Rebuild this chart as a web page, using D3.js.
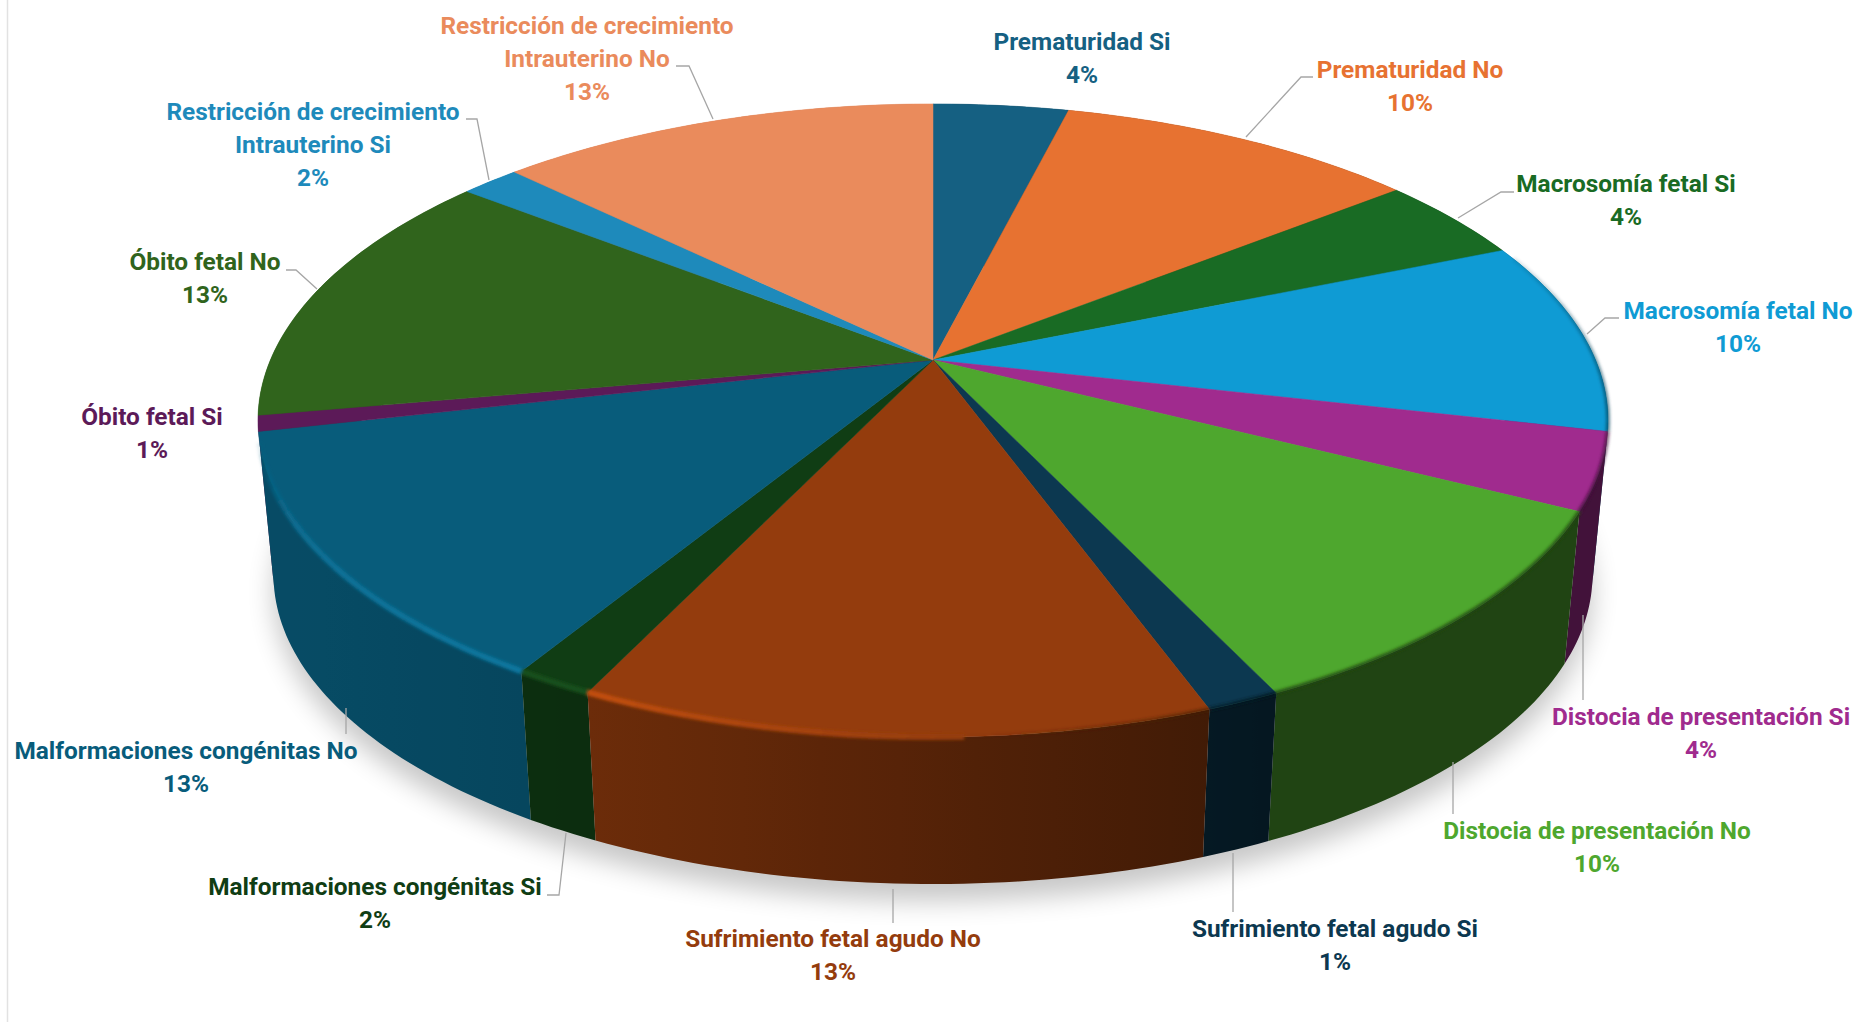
<!DOCTYPE html>
<html>
<head>
<meta charset="utf-8">
<script src="https://cdn.jsdelivr.net/npm/d3@7"></script>
<style>
  html, body { margin: 0; padding: 0; background: #fff; }
  svg { display: block; }
  text { font-family: Roboto, sans-serif; font-weight: 700; font-size: 24.4px; text-anchor: middle; }
</style>
</head>
<body>
<svg id="chart" width="1856" height="1022"></svg>
<script>
const categories = [
  ['Prematuridad Si'], ['Prematuridad No'], ['Macrosomía fetal Si'], ['Macrosomía fetal No'],
  ['Distocia de presentación Si'], ['Distocia de presentación No'],
  ['Sufrimiento fetal agudo Si'], ['Sufrimiento fetal agudo No'],
  ['Malformaciones congénitas Si'], ['Malformaciones congénitas No'],
  ['Óbito fetal Si'], ['Óbito fetal No'],
  ['Restricción de crecimiento', 'Intrauterino Si'], ['Restricción de crecimiento', 'Intrauterino No']
]
const shares = [3.9, 10.4, 4.4, 9.9, 3.9, 10.45, 1.49, 12.66, 1.6, 12.7, 0.8, 13.4, 1.7, 12.7]

const colours = ['#156082', '#e77231', '#196b24', '#0f9bd4', '#a02b8e', '#4ea72e', '#0c3850',
  '#943c0d', '#103d14', '#085c7b', '#5c1a58', '#30641c', '#1e8abb', '#ea8b5c']

// label centres (first line) and leader lines, in page pixels
const labelAt = [[1082, 42], [1410, 70], [1626, 184], [1738, 311], [1701, 717], [1597, 831], [1335, 929],
  [833, 939], [375, 887], [186, 751], [152, 417], [205, 262], [313, 112], [587, 26]]
const leaders = [
  null,
  [[1313, 77], [1301, 77], [1246, 137]],
  [[1514, 192], [1501, 192], [1458, 218]],
  [[1619, 318], [1605, 318], [1587, 334]],
  [[1583, 700], [1583, 615]],
  [[1453, 814], [1453, 762]],
  [[1233, 912], [1233, 853]],
  [[893, 923], [893, 889]],
  [[547, 895], [559, 895], [566, 833]],
  [[346, 734], [346, 708]],
  null,
  [[286, 270], [296, 270], [317, 289]],
  [[466, 119], [477, 119], [489, 180]],
  [[676, 66], [689, 66], [713, 119]]
]

const svg = d3.select('#chart')
const lineHeight = 33

// perspective of the disc: v = 1 is the far edge, and the base is a bit smaller and lower
const cx = 933, cy = 360
const k = 0.191, A = 662.6, B = 305
const baseScale = 0.977, baseDrop = 155.7

function project(a, base) {
  const u = Math.sin(a), v = Math.cos(a), w = 1 + k * v
  const s = base ? baseScale : 1
  return [cx + s * A * u / w, cy + (base ? baseDrop : 0) - s * B * v / w]
}

const pie = d3.pie().sort(null).value(d => d)
const arcs = pie(shares)
const line = d3.line()
const deg = Math.PI / 180

function arcAngles(a0, a1, step) {
  const n = Math.max(1, Math.ceil((a1 - a0) / step))
  return d3.range(n + 1).map(i => a0 + (a1 - a0) * i / n)
}

// darker on the right of the front wall, lighter to the left
const sideLight = d3.scaleLinear().domain([155, 210, 250]).range([0.41, 0.76, 0.82]).clamp(true)
function shade(c, f) {
  const r = d3.rgb(c)
  return d3.rgb(r.r * f, r.g * f, r.b * f).formatHex()
}

const defs = svg.append('defs')
defs.append('filter').attr('id', 'shadowBlur')
  .attr('x', '-10%').attr('y', '-10%').attr('width', '120%').attr('height', '120%')
  .append('feGaussianBlur').attr('stdDeviation', 13)
defs.append('filter').attr('id', 'rimBlur')
  .attr('filterUnits', 'userSpaceOnUse')
  .attr('x', 0).attr('y', 0).attr('width', 1856).attr('height', 1022)
  .append('feGaussianBlur').attr('stdDeviation', 1.8)

// page edge on the left
svg.append('line').attr('x1', 7.5).attr('x2', 7.5).attr('y1', 0).attr('y2', 1022)
  .attr('stroke', '#e2e2e2').attr('stroke-width', 1.5)

// shadow under the base
svg.append('path')
  .attr('d', line(arcAngles(0, 2 * Math.PI, deg).map(a => project(a, true))) + 'Z')
  .attr('transform', 'translate(0,17)')
  .attr('fill', '#000').attr('opacity', 0.22)
  .attr('filter', 'url(#shadowBlur)')

// side wall, one gradient per slice, far ones first
arcs.forEach((d, i) => {
  const g = defs.append('linearGradient').attr('id', 'wall' + i)
    .attr('gradientUnits', 'userSpaceOnUse')
    .attr('x1', project(d.startAngle)[0]).attr('x2', project(d.endAngle)[0])
    .attr('y1', 0).attr('y2', 0)
  d3.range(9).forEach(j => {
    const a = d.startAngle + (d.endAngle - d.startAngle) * j / 8
    g.append('stop').attr('offset', j / 8).attr('stop-color', shade(colours[i], sideLight(a / deg)))
  })
})
const midCos = i => Math.cos((arcs[i].startAngle + arcs[i].endAngle) / 2)
const wallOrder = d3.range(arcs.length).sort((a, b) => midCos(b) - midCos(a))

svg.append('g').selectAll('path').data(wallOrder).join('path')
  .attr('d', i => {
    const as = arcAngles(arcs[i].startAngle, arcs[i].endAngle, deg)
    return line([...as.map(a => project(a)), ...as.slice().reverse().map(a => project(a, true))]) + 'Z'
  })
  .attr('fill', i => `url(#wall${i})`)

// top face
svg.append('g').selectAll('path').data(arcs).join('path')
  .attr('d', d => line([[cx, cy], ...arcAngles(d.startAngle, d.endAngle, deg).map(a => project(a))]) + 'Z')
  .attr('fill', (d, i) => colours[i])
  .attr('stroke', (d, i) => colours[i])
  .attr('stroke-width', 0.5)

// bevel along the rim: light on the left, dark on the right
const rim = []
arcs.forEach((d, i) => {
  d3.pairs(arcAngles(d.startAngle, d.endAngle, 2 * deg)).forEach(p => {
    const m = (p[0] + p[1]) / 2 / deg
    if (m > 70 && m < 256) rim.push({i, a0: p[0], a1: p[1], m})
  })
})
const lightAmount = d3.scaleLinear().domain([178, 205, 235, 256]).range([0, 0.75, 0.55, 0.15]).clamp(true)
const lightFade = d3.scaleLinear().domain([240, 256]).range([1, 0]).clamp(true)
const darkAmount = d3.scaleLinear().domain([70, 95, 120, 155, 178]).range([0.15, 0.6, 0.85, 0.85, 0]).clamp(true)

svg.append('g').attr('filter', 'url(#rimBlur)').attr('fill', 'none').selectAll('path').data(rim).join('path')
  .attr('d', s => line([project(s.a0), project(s.a1)]))
  .attr('stroke-width', s => s.m < 178 ? 4 : 6)
  .attr('stroke', s => s.m < 178
    ? shade(colours[s.i], sideLight(s.m))
    : d3.rgb(colours[s.i]).brighter(lightAmount(s.m)).formatHex())
  .attr('stroke-opacity', s => s.m < 178 ? darkAmount(s.m) : lightFade(s.m))

// leader lines
svg.append('g').selectAll('path').data(leaders.filter(d => d)).join('path')
  .attr('d', d => line(d))
  .attr('fill', 'none').attr('stroke', '#a6a6a6').attr('stroke-width', 1.3)

// labels
const labels = svg.append('g').selectAll('text').data(categories).join('text')
  .attr('x', (d, i) => labelAt[i][0])
  .attr('y', (d, i) => labelAt[i][1] + 8)
  .attr('fill', (d, i) => colours[i])
labels.each(function (d, i) {
  const t = d3.select(this)
  const rows = d.concat(Math.round(shares[i]) + '%')
  rows.forEach((row, j) => {
    t.append('tspan').attr('x', labelAt[i][0]).attr('dy', j ? lineHeight : 0).text(row)
  })
})
</script>
</body>
</html>
